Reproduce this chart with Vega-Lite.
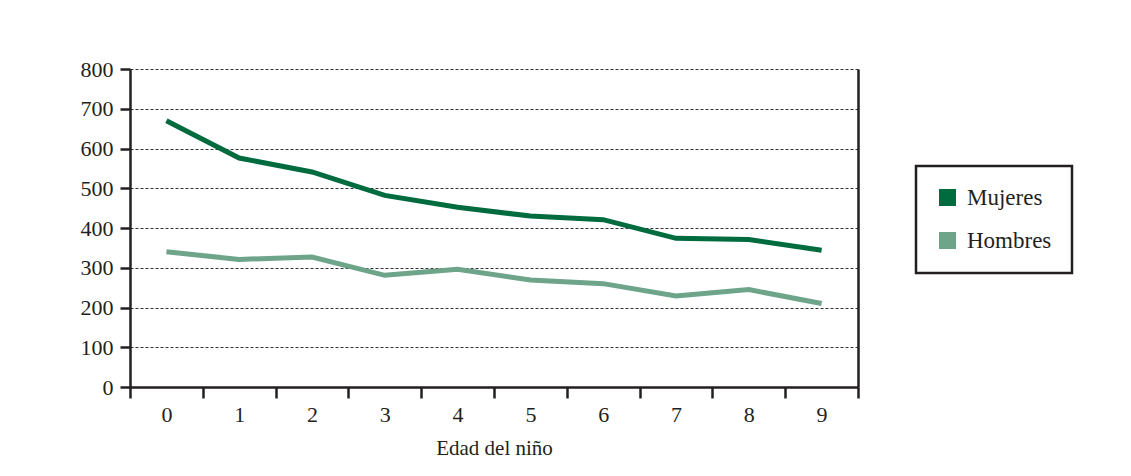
{
  "$schema": "https://vega.github.io/schema/vega-lite/v6.json",
  "width": 728,
  "height": 318,
  "autosize": {"type": "none"},
  "padding": {"left": 130, "top": 69, "right": 273, "bottom": 89},
  "background": "white",
  "config": {
    "view": {"stroke": null},
    "font": "Liberation Serif",
    "axis": {
      "labelFont": "Liberation Serif",
      "titleFont": "Liberation Serif",
      "labelColor": "#231f20",
      "titleColor": "#231f20",
      "domainColor": "#231f20",
      "tickColor": "#231f20"
    }
  },
  "data": {
    "values": [
      {"edad": 0, "sexo": "Mujeres", "valor": 670},
      {"edad": 1, "sexo": "Mujeres", "valor": 576},
      {"edad": 2, "sexo": "Mujeres", "valor": 541},
      {"edad": 3, "sexo": "Mujeres", "valor": 482},
      {"edad": 4, "sexo": "Mujeres", "valor": 452},
      {"edad": 5, "sexo": "Mujeres", "valor": 430},
      {"edad": 6, "sexo": "Mujeres", "valor": 421},
      {"edad": 7, "sexo": "Mujeres", "valor": 374},
      {"edad": 8, "sexo": "Mujeres", "valor": 371},
      {"edad": 9, "sexo": "Mujeres", "valor": 344},
      {"edad": 0, "sexo": "Hombres", "valor": 340},
      {"edad": 1, "sexo": "Hombres", "valor": 321},
      {"edad": 2, "sexo": "Hombres", "valor": 327},
      {"edad": 3, "sexo": "Hombres", "valor": 281},
      {"edad": 4, "sexo": "Hombres", "valor": 296},
      {"edad": 5, "sexo": "Hombres", "valor": 269},
      {"edad": 6, "sexo": "Hombres", "valor": 260},
      {"edad": 7, "sexo": "Hombres", "valor": 229},
      {"edad": 8, "sexo": "Hombres", "valor": 245},
      {"edad": 9, "sexo": "Hombres", "valor": 210}
    ]
  },
  "layer": [
    {
      "mark": {"type": "line", "strokeWidth": 5, "strokeCap": "butt", "strokeJoin": "miter"},
      "encoding": {
        "x": {
          "field": "edad",
          "type": "ordinal",
          "scale": {"type": "band", "paddingInner": 0, "paddingOuter": 0},
          "axis": {
            "title": "Edad del niño",
            "labelAngle": 0,
            "tickBand": "extent",
            "tickSize": 11,
            "tickWidth": 2.5,
            "domainWidth": 2.5,
            "labelPadding": 6,
            "labelFontSize": 22,
            "titleFontSize": 21,
            "titleFontWeight": "normal",
            "titlePadding": 12,
            "grid": false
          }
        },
        "y": {
          "field": "valor",
          "type": "quantitative",
          "scale": {"domain": [0, 800], "nice": false},
          "axis": {
            "title": null,
            "values": [0, 100, 200, 300, 400, 500, 600, 700, 800],
            "tickSize": 10,
            "tickWidth": 2.5,
            "domainWidth": 2.5,
            "labelPadding": 7,
            "labelFontSize": 22,
            "grid": true,
            "gridDash": [3, 2],
            "gridColor": "#333333",
            "gridWidth": 1
          }
        },
        "color": {
          "field": "sexo",
          "type": "nominal",
          "scale": {"domain": ["Mujeres", "Hombres"], "range": ["#006b3f", "#6da48a"]},
          "legend": {
            "orient": "none",
            "legendX": 786,
            "legendY": 97,
            "title": null,
            "symbolType": "square",
            "symbolSize": 289,
            "symbolStrokeWidth": 0,
            "labelFontSize": 23,
            "labelFont": "Liberation Serif",
            "labelColor": "#231f20",
            "labelOffset": 8,
            "padding": 20,
            "rowPadding": 19,
            "strokeColor": "#231f20",
            "fillColor": "white",
            "encode": {
              "legend": {
                "update": {
                  "strokeWidth": {"value": 2.5}
                }
              },
              "symbols": {
                "update": {
                  "fill": {"scale": "color", "field": "value"},
                  "opacity": {"value": 1}
                }
              }
            }
          }
        }
      }
    },
    {
      "mark": {"type": "line", "opacity": 0},
      "encoding": {
        "x": {"field": "edad", "type": "ordinal"},
        "y": {
          "field": "valor",
          "type": "quantitative",
          "axis": {
            "orient": "right",
            "title": null,
            "labels": false,
            "ticks": false,
            "grid": false,
            "domainWidth": 2.5
          }
        },
        "detail": {"field": "sexo", "type": "nominal"}
      }
    }
  ],
  "resolve": {"axis": {"y": "independent"}}
}
